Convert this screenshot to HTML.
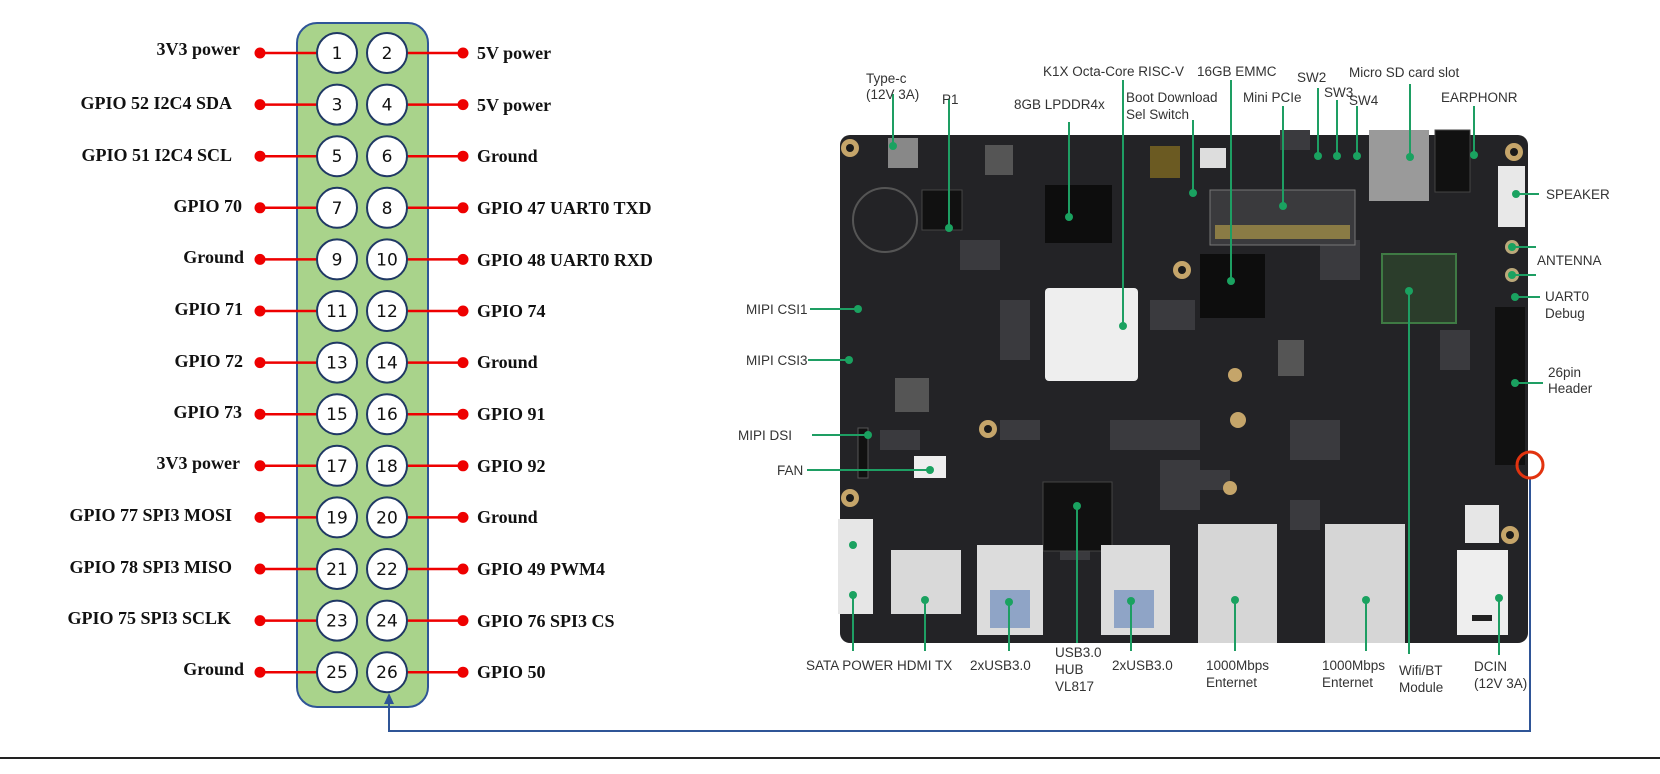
<!DOCTYPE html>
<html><head><meta charset="utf-8"><style>
html,body{margin:0;padding:0;background:#fff;}
svg{display:block;}
.lb{font-family:"Liberation Serif",serif;font-weight:bold;font-size:18px;fill:#111;}
.pn{font-family:"DejaVu Sans",sans-serif;font-size:17px;fill:#111;text-anchor:middle;}
.t{font-family:"Liberation Sans",sans-serif;font-size:13.5px;fill:#333;}
.g{stroke:#1e9e63;stroke-width:2;fill:none;}
.gd{fill:#1aa260;}
</style></head><body>
<svg width="1660" height="774" viewBox="0 0 1660 774" xmlns="http://www.w3.org/2000/svg">
<rect x="297" y="23" width="131" height="684" rx="20" fill="#a9d38b" stroke="#2f5597" stroke-width="2"/>
<g stroke="#e00" stroke-width="2.5">
<line x1="260" y1="53" x2="318" y2="53"/><line x1="406" y1="53" x2="463" y2="53"/>
<line x1="260" y1="104.6" x2="318" y2="104.6"/><line x1="406" y1="104.6" x2="463" y2="104.6"/>
<line x1="260" y1="156.2" x2="318" y2="156.2"/><line x1="406" y1="156.2" x2="463" y2="156.2"/>
<line x1="260" y1="207.8" x2="318" y2="207.8"/><line x1="406" y1="207.8" x2="463" y2="207.8"/>
<line x1="260" y1="259.4" x2="318" y2="259.4"/><line x1="406" y1="259.4" x2="463" y2="259.4"/>
<line x1="260" y1="311" x2="318" y2="311"/><line x1="406" y1="311" x2="463" y2="311"/>
<line x1="260" y1="362.6" x2="318" y2="362.6"/><line x1="406" y1="362.6" x2="463" y2="362.6"/>
<line x1="260" y1="414.2" x2="318" y2="414.2"/><line x1="406" y1="414.2" x2="463" y2="414.2"/>
<line x1="260" y1="465.8" x2="318" y2="465.8"/><line x1="406" y1="465.8" x2="463" y2="465.8"/>
<line x1="260" y1="517.4" x2="318" y2="517.4"/><line x1="406" y1="517.4" x2="463" y2="517.4"/>
<line x1="260" y1="569" x2="318" y2="569"/><line x1="406" y1="569" x2="463" y2="569"/>
<line x1="260" y1="620.6" x2="318" y2="620.6"/><line x1="406" y1="620.6" x2="463" y2="620.6"/>
<line x1="260" y1="672.2" x2="318" y2="672.2"/><line x1="406" y1="672.2" x2="463" y2="672.2"/>
</g>
<g fill="#e00">
<circle cx="260" cy="53" r="5.5"/><circle cx="463" cy="53" r="5.5"/>
<circle cx="260" cy="104.6" r="5.5"/><circle cx="463" cy="104.6" r="5.5"/>
<circle cx="260" cy="156.2" r="5.5"/><circle cx="463" cy="156.2" r="5.5"/>
<circle cx="260" cy="207.8" r="5.5"/><circle cx="463" cy="207.8" r="5.5"/>
<circle cx="260" cy="259.4" r="5.5"/><circle cx="463" cy="259.4" r="5.5"/>
<circle cx="260" cy="311" r="5.5"/><circle cx="463" cy="311" r="5.5"/>
<circle cx="260" cy="362.6" r="5.5"/><circle cx="463" cy="362.6" r="5.5"/>
<circle cx="260" cy="414.2" r="5.5"/><circle cx="463" cy="414.2" r="5.5"/>
<circle cx="260" cy="465.8" r="5.5"/><circle cx="463" cy="465.8" r="5.5"/>
<circle cx="260" cy="517.4" r="5.5"/><circle cx="463" cy="517.4" r="5.5"/>
<circle cx="260" cy="569" r="5.5"/><circle cx="463" cy="569" r="5.5"/>
<circle cx="260" cy="620.6" r="5.5"/><circle cx="463" cy="620.6" r="5.5"/>
<circle cx="260" cy="672.2" r="5.5"/><circle cx="463" cy="672.2" r="5.5"/>
</g>
<g fill="#fff" stroke="#1f3864" stroke-width="2">
<circle cx="337" cy="53" r="20"/><circle cx="387" cy="53" r="20"/>
<circle cx="337" cy="104.6" r="20"/><circle cx="387" cy="104.6" r="20"/>
<circle cx="337" cy="156.2" r="20"/><circle cx="387" cy="156.2" r="20"/>
<circle cx="337" cy="207.8" r="20"/><circle cx="387" cy="207.8" r="20"/>
<circle cx="337" cy="259.4" r="20"/><circle cx="387" cy="259.4" r="20"/>
<circle cx="337" cy="311" r="20"/><circle cx="387" cy="311" r="20"/>
<circle cx="337" cy="362.6" r="20"/><circle cx="387" cy="362.6" r="20"/>
<circle cx="337" cy="414.2" r="20"/><circle cx="387" cy="414.2" r="20"/>
<circle cx="337" cy="465.8" r="20"/><circle cx="387" cy="465.8" r="20"/>
<circle cx="337" cy="517.4" r="20"/><circle cx="387" cy="517.4" r="20"/>
<circle cx="337" cy="569" r="20"/><circle cx="387" cy="569" r="20"/>
<circle cx="337" cy="620.6" r="20"/><circle cx="387" cy="620.6" r="20"/>
<circle cx="337" cy="672.2" r="20"/><circle cx="387" cy="672.2" r="20"/>
</g>
<g class="pn">
<text x="337" y="59">1</text><text x="387" y="59">2</text>
<text x="337" y="110.6">3</text><text x="387" y="110.6">4</text>
<text x="337" y="162.2">5</text><text x="387" y="162.2">6</text>
<text x="337" y="213.8">7</text><text x="387" y="213.8">8</text>
<text x="337" y="265.4">9</text><text x="387" y="265.4">10</text>
<text x="337" y="317">11</text><text x="387" y="317">12</text>
<text x="337" y="368.6">13</text><text x="387" y="368.6">14</text>
<text x="337" y="420.2">15</text><text x="387" y="420.2">16</text>
<text x="337" y="471.8">17</text><text x="387" y="471.8">18</text>
<text x="337" y="523.4">19</text><text x="387" y="523.4">20</text>
<text x="337" y="575">21</text><text x="387" y="575">22</text>
<text x="337" y="626.6">23</text><text x="387" y="626.6">24</text>
<text x="337" y="678.2">25</text><text x="387" y="678.2">26</text>
</g>
<g class="lb" text-anchor="end">
<text x="240" y="55">3V3 power</text>
<text x="232" y="109">GPIO 52 I2C4 SDA</text>
<text x="232" y="161">GPIO 51 I2C4 SCL</text>
<text x="242" y="212">GPIO 70</text>
<text x="244" y="263">Ground</text>
<text x="243" y="315">GPIO 71</text>
<text x="243" y="367">GPIO 72</text>
<text x="242" y="418">GPIO 73</text>
<text x="240" y="469">3V3 power</text>
<text x="232" y="521">GPIO 77 SPI3 MOSI</text>
<text x="232" y="573">GPIO 78 SPI3 MISO</text>
<text x="231" y="624">GPIO 75 SPI3 SCLK</text>
<text x="244" y="675">Ground</text>
</g>
<g class="lb">
<text x="477" y="59">5V power</text>
<text x="477" y="111">5V power</text>
<text x="477" y="162">Ground</text>
<text x="477" y="214">GPIO 47 UART0 TXD</text>
<text x="477" y="266">GPIO 48 UART0 RXD</text>
<text x="477" y="317">GPIO 74</text>
<text x="477" y="368">Ground</text>
<text x="477" y="420">GPIO 91</text>
<text x="477" y="472">GPIO 92</text>
<text x="477" y="523">Ground</text>
<text x="477" y="575">GPIO 49 PWM4</text>
<text x="477" y="627">GPIO 76 SPI3 CS</text>
<text x="477" y="678">GPIO 50</text>
</g>
<polyline points="1530,479 1530,731 389,731 389,702" fill="none" stroke="#2f5597" stroke-width="2"/>
<polygon points="389,693 384,704 394,704" fill="#2f5597"/>
<line x1="0" y1="758" x2="1660" y2="758" stroke="#222" stroke-width="2"/>

<rect x="840" y="135" width="688" height="508" rx="10" fill="#232326"/>
<g fill="#3a3a3e">
<rect x="960" y="240" width="40" height="30"/><rect x="1000" y="300" width="30" height="60"/><rect x="1150" y="300" width="45" height="30"/>
<rect x="1110" y="420" width="90" height="30"/><rect x="1160" y="460" width="40" height="50"/><rect x="1290" y="420" width="50" height="40"/>
<rect x="1290" y="500" width="30" height="30"/><rect x="1440" y="330" width="30" height="40"/><rect x="880" y="430" width="40" height="20"/>
<rect x="1000" y="420" width="40" height="20"/><rect x="1320" y="240" width="40" height="40"/><rect x="1280" y="130" width="30" height="20"/>
<rect x="1060" y="540" width="30" height="20"/><rect x="1170" y="470" width="60" height="20"/>
</g>
<g fill="#c5a56a">
<circle cx="850" cy="148" r="9"/><circle cx="1514" cy="152" r="9"/><circle cx="988" cy="429" r="9"/><circle cx="850" cy="498" r="9"/><circle cx="1510" cy="535" r="9"/>
<circle cx="1182" cy="270" r="9"/><circle cx="1238" cy="420" r="8"/><circle cx="1235" cy="375" r="7"/><circle cx="1230" cy="488" r="7"/>
</g>
<g fill="#1a1a1a"><circle cx="850" cy="148" r="4"/><circle cx="1514" cy="152" r="4"/><circle cx="988" cy="429" r="4"/><circle cx="850" cy="498" r="4"/><circle cx="1510" cy="535" r="4"/><circle cx="1182" cy="270" r="4"/></g>
<circle cx="885" cy="220" r="32" fill="none" stroke="#555" stroke-width="2"/>
<rect x="888" y="138" width="30" height="30" fill="#888"/>
<rect x="922" y="190" width="40" height="40" fill="#111" stroke="#444"/>
<rect x="985" y="145" width="28" height="30" fill="#555"/>
<rect x="1045" y="185" width="67" height="58" fill="#0d0d0d"/>
<rect x="1045" y="288" width="93" height="93" rx="4" fill="#eeeeee"/>
<rect x="1150" y="146" width="30" height="32" fill="#6b5a22"/>
<rect x="1200" y="148" width="26" height="20" fill="#ddd"/>
<rect x="1210" y="190" width="145" height="55" fill="#3a3a3d" stroke="#777"/>
<rect x="1215" y="225" width="135" height="14" fill="#8a7b45"/>
<rect x="1200" y="254" width="65" height="64" fill="#0d0d0d"/>
<rect x="1369" y="130" width="60" height="71" fill="#9a9a9a"/>
<rect x="1435" y="130" width="35" height="62" fill="#111" stroke="#444"/>
<rect x="1498" y="166" width="27" height="61" fill="#e8e8e8"/>
<rect x="1382" y="254" width="74" height="69" fill="#2b3d2b" stroke="#3f7a44" stroke-width="2"/>
<rect x="1495" y="307" width="30" height="158" fill="#111"/>
<rect x="1278" y="340" width="26" height="36" fill="#555"/>
<rect x="895" y="378" width="34" height="34" fill="#555"/>
<rect x="858" y="428" width="10" height="50" fill="#111" stroke="#555"/>
<rect x="914" y="456" width="32" height="22" fill="#eee"/>
<rect x="1043" y="482" width="69" height="69" fill="#111" stroke="#444"/>
<rect x="838" y="519" width="35" height="95" fill="#e6e6e6"/>
<rect x="891" y="550" width="70" height="64" fill="#d9d9d9"/>
<rect x="977" y="545" width="66" height="90" fill="#dcdcdc"/>
<rect x="990" y="590" width="40" height="38" fill="#8fa4c6"/>
<rect x="1101" y="545" width="69" height="90" fill="#dcdcdc"/>
<rect x="1114" y="590" width="40" height="38" fill="#8fa4c6"/>
<rect x="1198" y="524" width="79" height="119" fill="#d6d6d6"/>
<rect x="1325" y="524" width="80" height="119" fill="#d6d6d6"/>
<rect x="1465" y="505" width="34" height="38" fill="#e6e6e6"/>
<rect x="1457" y="550" width="51" height="85" fill="#eeeeee"/>
<rect x="1472" y="615" width="20" height="6" fill="#222"/>
<circle cx="1512" cy="247" r="7" fill="#bba87a"/><circle cx="1512" cy="275" r="7" fill="#bba87a"/>
<circle cx="1530" cy="465" r="13" fill="none" stroke="#e2330f" stroke-width="3"/>

<g class="g">
<line x1="893" y1="94" x2="893" y2="146"/>
<line x1="949" y1="99" x2="949" y2="228"/>
<line x1="1069" y1="122" x2="1069" y2="217"/>
<line x1="1123" y1="80" x2="1123" y2="326"/>
<line x1="1193" y1="120" x2="1193" y2="193"/>
<line x1="1231" y1="80" x2="1231" y2="281"/>
<line x1="1283" y1="106" x2="1283" y2="206"/>
<line x1="1318" y1="88" x2="1318" y2="156"/>
<line x1="1337" y1="100" x2="1337" y2="156"/>
<line x1="1357" y1="106" x2="1357" y2="156"/>
<line x1="1410" y1="84" x2="1410" y2="157"/>
<line x1="1474" y1="106" x2="1474" y2="155"/>
<line x1="1516" y1="194" x2="1539" y2="194"/>
<line x1="1512" y1="247" x2="1536" y2="247"/>
<line x1="1512" y1="275" x2="1536" y2="275"/>
<line x1="1515" y1="297" x2="1540" y2="297"/>
<line x1="1515" y1="383" x2="1543" y2="383"/>
<line x1="810" y1="309" x2="858" y2="309"/>
<line x1="808" y1="360" x2="849" y2="360"/>
<line x1="812" y1="435" x2="868" y2="435"/>
<line x1="807" y1="470" x2="930" y2="470"/>
<line x1="853" y1="595" x2="853" y2="651"/>
<line x1="925" y1="600" x2="925" y2="651"/>
<line x1="1009" y1="602" x2="1009" y2="651"/>
<line x1="1077" y1="506" x2="1077" y2="643"/>
<line x1="1131" y1="601" x2="1131" y2="651"/>
<line x1="1235" y1="600" x2="1235" y2="651"/>
<line x1="1366" y1="600" x2="1366" y2="651"/>
<line x1="1409" y1="291" x2="1409" y2="654"/>
<line x1="1499" y1="598" x2="1499" y2="655"/>
</g>
<g class="gd">
<circle cx="893" cy="146" r="4"/><circle cx="949" cy="228" r="4"/><circle cx="1069" cy="217" r="4"/><circle cx="1123" cy="326" r="4"/>
<circle cx="1193" cy="193" r="4"/><circle cx="1231" cy="281" r="4"/><circle cx="1283" cy="206" r="4"/><circle cx="1318" cy="156" r="4"/>
<circle cx="1337" cy="156" r="4"/><circle cx="1357" cy="156" r="4"/><circle cx="1410" cy="157" r="4"/><circle cx="1474" cy="155" r="4"/>
<circle cx="1516" cy="194" r="4"/><circle cx="1512" cy="247" r="4"/><circle cx="1512" cy="275" r="4"/><circle cx="1515" cy="297" r="4"/><circle cx="1515" cy="383" r="4"/>
<circle cx="858" cy="309" r="4"/><circle cx="849" cy="360" r="4"/><circle cx="868" cy="435" r="4"/><circle cx="930" cy="470" r="4"/>
<circle cx="853" cy="595" r="4"/><circle cx="853" cy="545" r="4"/><circle cx="925" cy="600" r="4"/><circle cx="1009" cy="602" r="4"/><circle cx="1077" cy="506" r="4"/>
<circle cx="1131" cy="601" r="4"/><circle cx="1235" cy="600" r="4"/><circle cx="1366" cy="600" r="4"/><circle cx="1409" cy="291" r="4"/><circle cx="1499" cy="598" r="4"/>
</g>
<g class="t">
<text x="866" y="83">Type-c</text><text x="866" y="99">(12V 3A)</text>
<text x="942" y="104">P1</text>
<text x="1014" y="109">8GB LPDDR4x</text>
<text x="1043" y="76">K1X Octa-Core RISC-V</text>
<text x="1126" y="102">Boot Download</text><text x="1126" y="119">Sel Switch</text>
<text x="1197" y="76">16GB EMMC</text>
<text x="1243" y="102">Mini PCIe</text>
<text x="1297" y="82">SW2</text>
<text x="1324" y="97">SW3</text>
<text x="1349" y="105">SW4</text>
<text x="1349" y="77">Micro SD card slot</text>
<text x="1441" y="102">EARPHONR</text>
<text x="1546" y="199">SPEAKER</text>
<text x="1537" y="265">ANTENNA</text>
<text x="1545" y="301">UART0</text><text x="1545" y="318">Debug</text>
<text x="1548" y="377">26pin</text><text x="1548" y="393">Header</text>
<text x="746" y="314">MIPI CSI1</text>
<text x="746" y="365">MIPI CSI3</text>
<text x="738" y="440">MIPI DSI</text>
<text x="777" y="475">FAN</text>
<text x="806" y="670">SATA POWER</text>
<text x="897" y="670">HDMI TX</text>
<text x="970" y="670">2xUSB3.0</text>
<text x="1055" y="657">USB3.0</text><text x="1055" y="674">HUB</text><text x="1055" y="691">VL817</text>
<text x="1112" y="670">2xUSB3.0</text>
<text x="1206" y="670">1000Mbps</text><text x="1206" y="687">Enternet</text>
<text x="1322" y="670">1000Mbps</text><text x="1322" y="687">Enternet</text>
<text x="1399" y="675">Wifi/BT</text><text x="1399" y="692">Module</text>
<text x="1474" y="671">DCIN</text><text x="1474" y="688">(12V 3A)</text>
</g>
</svg>
</body></html>
